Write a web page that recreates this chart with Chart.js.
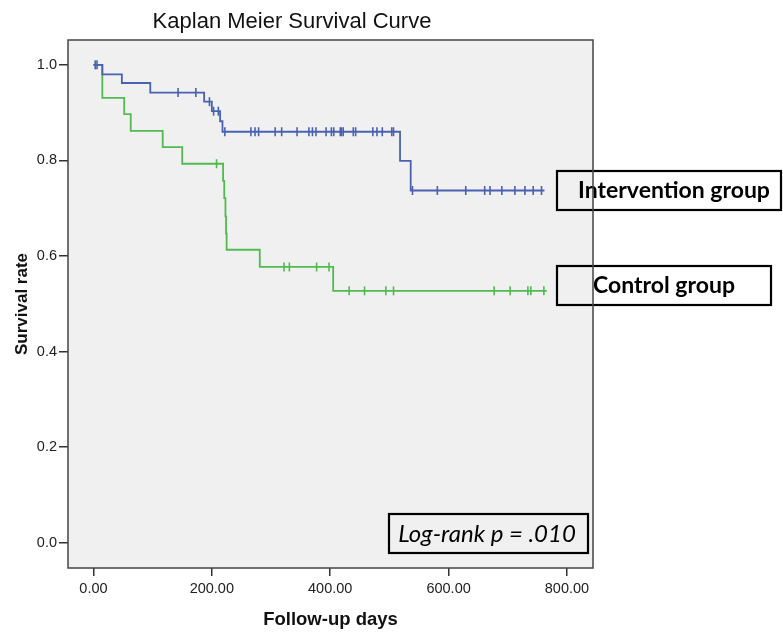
<!DOCTYPE html>
<html>
<head>
<meta charset="utf-8">
<script src="https://cdn.jsdelivr.net/npm/chart.js@4/dist/chart.umd.min.js"></script>
<style>
  html, body { margin: 0; padding: 0; background: #fff; }
  canvas { display: block; }
</style>
</head>
<body>
<canvas id="kmChart" width="783" height="635"></canvas>
<script>
// Kaplan-Meier steps: time of each event and survival right after it
const interventionTimes = [0, 15, 48, 96, 187, 200, 214, 218, 518, 536, 762];
const interventionSurvival = [1.0, 0.980, 0.962, 0.942, 0.923, 0.903, 0.882, 0.860, 0.799, 0.737, 0.737];
const interventionCensored = [3, 6, 143, 173, 196, 203, 211, 222, 266, 273, 279, 307, 318, 344, 364, 370, 376,
  393, 402, 406, 417, 419, 422, 439, 443, 472, 479, 488, 504, 507, 539, 581, 629, 661, 670, 690, 712, 729, 743, 757];

const controlTimes = [0, 15, 52, 63, 117, 150, 219, 221, 223, 224, 225, 281, 405, 766];
const controlSurvival = [1.0, 0.931, 0.897, 0.862, 0.828, 0.793, 0.757, 0.721, 0.683, 0.647, 0.613, 0.577, 0.527, 0.527];
const controlCensored = [208, 322, 331, 377, 398, 432, 458, 494, 507, 677, 704, 734, 739, 761];

const xTicks = [0, 200, 400, 600, 800];
const yTicks = [0, 0.2, 0.4, 0.6, 0.8, 1.0];

const chartTitle = 'Kaplan Meier Survival Curve';
const xTitle = 'Follow-up days';
const yTitle = 'Survival rate';
const groupLabels = ['Intervention group', 'Control group'];
const pValueText = 'Log-rank p = .010';

const blue = '#4a61b2';
const green = '#50ba50';

// survival level in force at time t (used to place the censor ticks on the curve)
function survivalAt(times, surv, t) {
  let s = surv[0];
  for (let i = 0; i < times.length; i++) {
    if (times[i] <= t) s = surv[i];
  }
  return s;
}

const toPoints = (xs, ys) => xs.map((x, i) => ({ x: x, y: ys[i] }));
const censorPoints = (cs, times, surv) => cs.map(t => ({ x: t, y: survivalAt(times, surv, t) }));

const tickFont = { family: '"Liberation Sans", Arial, sans-serif', size: 14.5 };

const overlay = {
  id: 'overlay',
  beforeDraw(chart) {
    const { ctx, chartArea: a } = chart;
    ctx.save();
    ctx.fillStyle = '#f0f0f0';
    ctx.fillRect(a.left, a.top, a.right - a.left, a.bottom - a.top);
    ctx.restore();
  },
  afterDraw(chart) {
    const { ctx, chartArea: a } = chart;
    ctx.save();
    ctx.fillStyle = '#111';
    ctx.textAlign = 'center';
    ctx.textBaseline = 'middle';

    ctx.font = '22px "Liberation Sans", Arial, sans-serif';
    ctx.fillText(chartTitle, 292, 22);

    ctx.font = 'bold 18.5px "Liberation Sans", Arial, sans-serif';
    ctx.fillText(xTitle, (a.left + a.right) / 2, 620);
    ctx.save();
    ctx.translate(22, (a.top + a.bottom) / 2);
    ctx.rotate(-Math.PI / 2);
    ctx.font = 'bold 17px "Liberation Sans", Arial, sans-serif';
    ctx.fillText(yTitle, 0, 0);
    ctx.restore();

    // text boxes
    ctx.strokeStyle = '#000';
    ctx.lineWidth = 2.2;
    ctx.fillStyle = '#000';
    ctx.strokeRect(557, 171, 224, 39);
    ctx.strokeRect(557, 266, 214, 39);
    ctx.strokeRect(389, 514, 199, 39);

    ctx.font = 'bold 23px Lato, "Open Sans", sans-serif';
    ctx.fillText(groupLabels[0], 674, 191);
    ctx.fillText(groupLabels[1], 664, 286);
    ctx.font = 'italic 24px Lato, "Open Sans", sans-serif';
    ctx.fillText(pValueText, 487, 534);

    // plot frame
    ctx.strokeStyle = '#444';
    ctx.lineWidth = 1.5;
    ctx.strokeRect(a.left, a.top, a.right - a.left, a.bottom - a.top);
    ctx.restore();
  }
};

new Chart(document.getElementById('kmChart'), {
  type: 'line',
  data: {
    datasets: [
      {
        label: groupLabels[0],
        data: toPoints(interventionTimes, interventionSurvival),
        stepped: 'before',
        borderColor: blue,
        borderWidth: 1.8,
        pointRadius: 0,
        fill: false
      },
      {
        label: groupLabels[0] + ' censored',
        data: censorPoints(interventionCensored, interventionTimes, interventionSurvival),
        showLine: false,
        pointStyle: 'line',
        rotation: 90,
        pointRadius: 4.5,
        borderColor: blue,
        borderWidth: 1.6
      },
      {
        label: groupLabels[1],
        data: toPoints(controlTimes, controlSurvival),
        stepped: 'before',
        borderColor: green,
        borderWidth: 1.8,
        pointRadius: 0,
        fill: false
      },
      {
        label: groupLabels[1] + ' censored',
        data: censorPoints(controlCensored, controlTimes, controlSurvival),
        showLine: false,
        pointStyle: 'line',
        rotation: 90,
        pointRadius: 4.5,
        borderColor: green,
        borderWidth: 1.6
      }
    ]
  },
  options: {
    responsive: false,
    animation: false,
    layout: { padding: { left: 0, right: 190, top: 40, bottom: 0 } },
    plugins: {
      legend: { display: false },
      tooltip: { enabled: false }
    },
    scales: {
      x: {
        type: 'linear',
        min: -43,
        max: 844,
        afterFit: s => { s.height = 67; },
        afterBuildTicks: s => { s.ticks = xTicks.map(v => ({ value: v })); },
        border: { display: false },
        grid: { drawOnChartArea: false, drawTicks: true, tickLength: 8, color: '#333', lineWidth: 1.5 },
        ticks: {
          font: tickFont,
          color: '#222',
          padding: 4,
          maxRotation: 0,
          callback: v => v.toFixed(2)
        }
      },
      y: {
        type: 'linear',
        min: -0.053,
        max: 1.052,
        afterFit: s => { s.width = 68; },
        afterBuildTicks: s => { s.ticks = yTicks.map(v => ({ value: v })); },
        border: { display: false },
        grid: { drawOnChartArea: false, drawTicks: true, tickLength: 9, color: '#333', lineWidth: 1.5 },
        ticks: {
          font: tickFont,
          color: '#222',
          padding: 2,
          callback: v => v.toFixed(1)
        }
      }
    }
  },
  plugins: [overlay]
});
</script>
</body>
</html>
